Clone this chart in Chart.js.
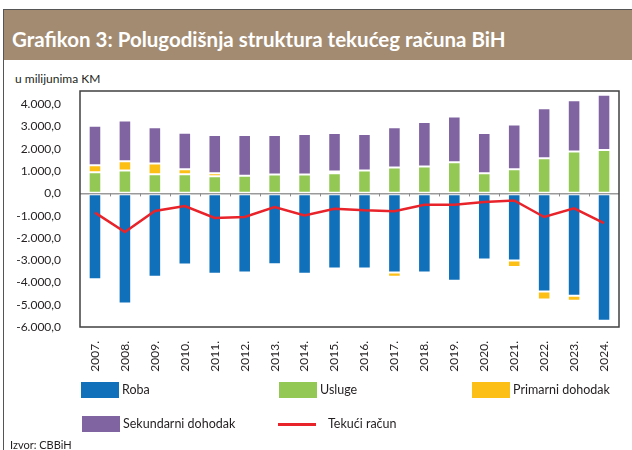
<!DOCTYPE html>
<html>
<head>
<meta charset="utf-8">
<script src="https://cdn.jsdelivr.net/npm/chart.js@4.4.1/dist/chart.umd.min.js"></script>
<style>
  html, body { margin: 0; padding: 0; background: #fff; }
  #okvir { position: relative; width: 632px; height: 450px; overflow: hidden; font-family: Lato, "Open Sans", sans-serif; color: #231f20; }
  #okvir::before { content: ''; position: absolute; left: 3px; top: 9px; right: 0; bottom: 0; border-left: 1px solid #555; border-top: 1px solid #555; }
  #naslov { position: absolute; left: 4px; top: 10px; width: 628px; height: 50px; background: #A38B71; color: #fff; font-weight: 700; font-size: 20.5px; line-height: 58px; padding-left: 8px; box-sizing: border-box; white-space: nowrap; overflow: hidden; }
  #jedinica { position: absolute; left: 15px; top: 71px; font-size: 12px; }
  #graf { position: absolute; left: 0; top: 0; }
  .leg { position: absolute; font-size: 12.5px; line-height: 16px; white-space: nowrap; }
  .leg i { display: inline-block; vertical-align: top; width: 38px; height: 16px; margin-right: 3px; }
  .leg i.linija { height: 3px; margin-top: 7px; margin-right: 12px; }
  #izvor { position: absolute; left: 10px; top: 438px; font-size: 11px; }
</style>
</head>
<body>
<div id="okvir">
  <div id="naslov">Grafikon 3: Polugodišnja struktura tekućeg računa BiH</div>
  <div id="jedinica">u milijunima KM</div>
  <canvas id="graf" width="632" height="450"></canvas>
  <div id="legenda"></div>
  <div id="izvor">Izvor: CBBiH</div>
</div>
<script>
// ── Podaci (mil. KM) ─────
const godine     = ['2007.','2008.','2009.','2010.','2011.','2012.','2013.','2014.','2015.','2016.','2017.','2018.','2019.','2020.','2021.','2022.','2023.','2024.'];
const roba       = [-3860,-4950,-3745,-3190,-3610,-3550,-3180,-3610,-3370,-3370,-3550,-3550,-3925,-2970,-3015,-4400,-4600,-5715];
const usluge     = [950, 1030, 865, 865, 775, 790, 850, 850, 910, 1030, 1165, 1210, 1400, 910, 1090, 1580, 1880, 1955];
const primarni   = [320, 420, 475, 225, 135, -60, -70, -75, 75, -20, -195, -60, -75, -60, -295, -360, -220, -75];
const sekundarni = [1770, 1820, 1630, 1640, 1715, 1835, 1775, 1820, 1730, 1640, 1805, 2000, 2060, 1805, 2000, 2240, 2300, 2475];
const tekuci     = [-865,-1730,-790,-565,-1105,-1060,-615,-985,-685,-760,-805,-505,-505,-390,-315,-1060,-670,-1330];
const yTicks     = [-6000,-5000,-4000,-3000,-2000,-1000,0,1000,2000,3000,4000];

const boje = { roba: '#1070BA', usluge: '#92C853', primarni: '#FBBF16', sekundarni: '#8064A2', tekuci: '#E8232A' };

function fmt(v) {
  const abs = Math.abs(v).toFixed(1).split('.');
  const cijeli = abs[0].replace(/\B(?=(\d{3})+(?!\d))/g, '.');
  return (v < 0 ? '-' : '') + cijeli + ',' + abs[1];
}

// okvir oko grafika + sitne oznake na nultoj liniji
const okvirPlugin = {
  id: 'okvirPlugin',
  afterDatasetsDraw(chart) {
    const { ctx, chartArea: a, scales } = chart;
    const y0 = scales.y.getPixelForValue(0);
    ctx.save();
    ctx.strokeStyle = '#8a8a8a';
    ctx.lineWidth = 1;
    for (let i = 1; i < godine.length; i++) {
      const x = Math.round((scales.x.getPixelForValue(i - 1) + scales.x.getPixelForValue(i)) / 2) + 0.5;
      ctx.beginPath(); ctx.moveTo(x, y0); ctx.lineTo(x, y0 + 3); ctx.stroke();
    }
    ctx.strokeStyle = '#404040';
    ctx.lineWidth = 1.5;
    ctx.strokeRect(a.left, a.top, a.right - a.left, a.bottom - a.top);
    ctx.restore();
  }
};

const barDs = (label, data, color) => ({
  type: 'bar', label, data,
  backgroundColor: color,
  borderColor: 'rgba(255,255,255,0.55)',
  borderWidth: 1,
  borderSkipped: false,
  barPercentage: 0.42,
  categoryPercentage: 1,
  stack: 'tr',
  order: 1
});

new Chart(document.getElementById('graf'), {
  data: {
    labels: godine,
    datasets: [
      barDs('Roba', roba, boje.roba),
      barDs('Usluge', usluge, boje.usluge),
      barDs('Primarni dohodak', primarni, boje.primarni),
      barDs('Sekundarni dohodak', sekundarni, boje.sekundarni),
      {
        type: 'line', label: 'Tekući račun', data: tekuci,
        borderColor: boje.tekuci, borderWidth: 2.5,
        pointRadius: 0, tension: 0, stack: 'linija', order: 0
      }
    ]
  },
  options: {
    responsive: false,
    animation: false,
    devicePixelRatio: 1,
    layout: { padding: { top: 91, right: 13, bottom: 0, left: 0 } },
    plugins: { legend: { display: false }, tooltip: { enabled: false } },
    scales: {
      x: {
        stacked: true,
        offset: true,
        grid: { display: false },
        border: { display: false },
        ticks: { minRotation: 90, maxRotation: 90, padding: 6, color: '#231f20', font: { family: 'Lato', size: 12 } },
        afterFit: s => { s.height = 123; }
      },
      y: {
        stacked: true,
        min: -6000, max: 4600,
        border: { display: false },
        grid: {
          drawTicks: false,
          color: c => (c.tick && c.tick.value === 0 ? '#9a9a9a' : 'rgba(0,0,0,0)'),
          lineWidth: 1.5
        },
        afterBuildTicks: s => { s.ticks = yTicks.map(v => ({ value: v })); },
        ticks: { padding: 19, color: '#231f20', font: { family: 'Lato', size: 12 }, callback: v => fmt(v) },
        afterFit: s => { s.width = 80; }
      }
    }
  },
  plugins: [okvirPlugin]
});

// ── Legenda ─────
const legenda = [
  { t: 'Roba', c: boje.roba, x: 81, y: 382 },
  { t: 'Usluge', c: boje.usluge, x: 279, y: 382 },
  { t: 'Primarni dohodak', c: boje.primarni, x: 472, y: 382 },
  { t: 'Sekundarni dohodak', c: boje.sekundarni, x: 82, y: 416 },
  { t: 'Tekući račun', c: boje.tekuci, x: 278, y: 416, linija: true }
];
document.getElementById('legenda').innerHTML = legenda.map(l =>
  `<div class="leg" style="left:${l.x}px;top:${l.y}px"><i class="${l.linija ? 'linija' : ''}" style="background:${l.c}"></i>${l.t}</div>`
).join('');
</script>
</body>
</html>
